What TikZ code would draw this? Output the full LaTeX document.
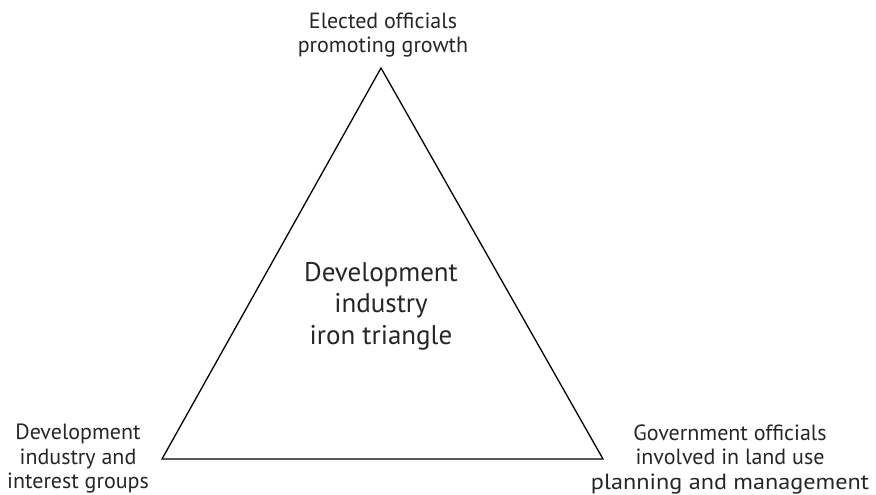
\documentclass[tikz,border=0pt]{standalone}
\usepackage{fontspec}
\setmainfont{PT Sans}
\begin{document}
\begin{tikzpicture}[x=1pt,y=-1pt,
  lbl/.style={align=center,inner sep=0pt,font=\fontsize{22}{24.5}\selectfont,text=black!85},
  clbl/.style={align=center,inner sep=0pt,font=\fontsize{27}{31.5}\selectfont,text=black!85},
  edge/.style={draw=black,line width=1.3pt,line join=miter}]
\useasboundingbox (0,0) rectangle (876,495);
\coordinate (A) at (381,68);
\coordinate (B) at (162,459);
\coordinate (C) at (603,459);
\draw[edge] (A) -- (B) -- (C) -- cycle;
\node[lbl] (top) at (383,35) {Elected officials\\promoting growth};
\node[lbl] (left) at (78,459) {Development\\industry and\\interest groups};
\node[lbl] (right) at (730,459) {Government officials\\involved in land use\\\scalebox{1.1}[1]{planning and management}};
\node[clbl] (center) at (381,306) {Development\\industry\\iron triangle};
\end{tikzpicture}
\end{document}
